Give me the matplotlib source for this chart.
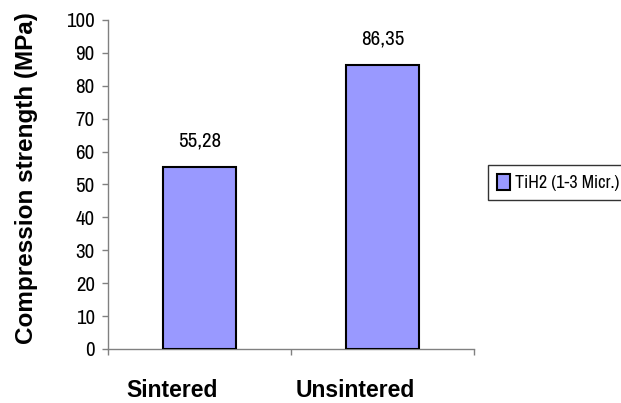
import matplotlib
matplotlib.use("Agg")
import matplotlib.pyplot as plt
from matplotlib import font_manager

categories = ["Sintered", "Unsintered"]
values = [55.28, 86.35]
series_name = "TiH2 (1-3 Micr.)"
y_ticks = [0, 10, 20, 30, 40, 50, 60, 70, 80, 90, 100]
y_label = "Compression strength (MPa)"

available = {f.name for f in font_manager.fontManager.ttflist}
narrow = next((n for n in ["Liberation Sans Narrow", "Arial Narrow", "Archivo Narrow"]
               if n in available), "Liberation Sans")
regular = "Liberation Sans"

fig = plt.figure(figsize=(6.21, 4.03), dpi=100)
ax = fig.add_axes([108 / 621, 1 - 349 / 403, 366 / 621, 329 / 403])

x = list(range(len(categories)))
bars = ax.bar(x, values, width=0.4, color="#9999FF", edgecolor="black",
              linewidth=1.5, label=series_name, zorder=3)

for xi, v in zip(x, values):
    ax.text(xi, v + 5, f"{v:.2f}".replace(".", ","), ha="center", va="bottom",
            fontsize=15, family=narrow)

ax.set_xlim(-0.5, len(categories) - 0.5)
ax.set_ylim(0, 100)
ax.set_yticks(y_ticks)
ax.set_yticklabels([str(t) for t in y_ticks], family=narrow, fontsize=15)
ax.set_xticks([i - 0.5 for i in range(len(categories) + 1)])
ax.set_xticklabels([])
ax.tick_params(axis="both", color="#808080", length=4.5, width=1)
ax.tick_params(axis="y", pad=5)

# category names sit below the axis, a little left of each bar
for xi, c in zip(x, categories):
    ax.text(xi - 0.15, (349 - 397) / 329, c, transform=ax.get_xaxis_transform(),
            ha="center", va="baseline", fontsize=16.5, fontweight="bold",
            family=regular)

for s in ["top", "right"]:
    ax.spines[s].set_visible(False)
for s in ["left", "bottom"]:
    ax.spines[s].set_color("#808080")
    ax.spines[s].set_linewidth(1)

fig.text(27 / 621, 1 - 178 / 403, y_label, rotation=90, ha="center", va="center",
         fontsize=17.5, fontweight="bold", family=regular)

leg = fig.legend(handles=[bars], loc="upper left",
                 bbox_to_anchor=(488 / 621, 1 - 165 / 403),
                 prop={"family": narrow, "size": 13}, fancybox=False,
                 handlelength=0.7, handleheight=0.95, handletextpad=0.3,
                 borderpad=0.5, borderaxespad=0)
leg.get_frame().set_edgecolor("black")
leg.get_frame().set_linewidth(1)
for p in leg.get_patches():
    p.set_linewidth(1.5)

fig.savefig("out.png", dpi=100)
